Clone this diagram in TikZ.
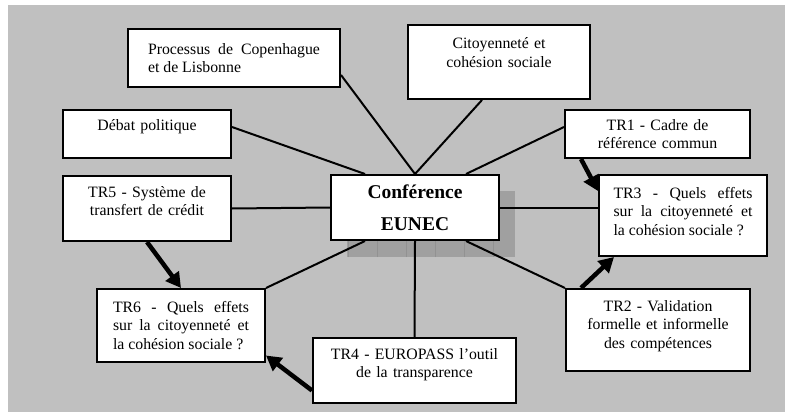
\documentclass[tikz,border=0pt]{standalone}
\usepackage{fontspec}
\setmainfont{Liberation Serif}
\usetikzlibrary{arrows.meta}
\hyphenpenalty=10000

\begin{document}
\begin{tikzpicture}[x=1pt,y=-1pt,line width=2pt,
	box/.style={rectangle,draw,fill=white,inner sep=0pt,
		font=\fontsize{15.8}{18.5}\selectfont},
	lift/.style={execute at end node={\rule[-#1]{0pt}{#1}}},
	bigarrow/.style={-{Triangle[length=15pt,width=16pt]},line width=4.5pt}]
	
	\definecolor{bg}{RGB}{192,192,192}
	\definecolor{shadowgrey}{RGB}{160,160,160}
	\definecolor{shadowgrid}{RGB}{146,146,146}
	
	\useasboundingbox (0,0) rectangle (791,417);
	\fill[bg] (8,5) rectangle (785,412);
	
	% shadow under the centre box
	\fill[shadowgrey] (347,191) rectangle (515,257);
	\draw[shadowgrid,line width=0.5pt,xstep=29,ystep=15] (347,191) grid (515,257);
	
	\node[box, minimum width=168, minimum height=65, text width=150, align=center,
		font=\fontsize{19.5}{32}\selectfont\bfseries] (conf) at (415,207.5) {Conf\'erence\\EUNEC};
	
	\node[box, minimum width=212, minimum height=58, text width=172, align=justify] (proc) at (234,58)
		{Processus de Copenhague\linebreak et de Lisbonne};
	\node[box, minimum width=182, minimum height=74, text width=160, align=center, lift=19pt] (citoy) at (499,62)
		{Citoyennet\'e et\\coh\'esion sociale};
	\node[box, minimum width=168, minimum height=48, text width=150, align=center, lift=17pt] (debat) at (147,134)
		{D\'ebat politique};
	\node[box, minimum width=185, minimum height=48, text width=165, align=center] (tr1) at (657.5,134)
		{TR1 - Cadre de\\r\'ef\'erence commun};
	\node[box, minimum width=168, minimum height=65, text width=150, align=center, lift=15pt] (tr5) at (147,208.5)
		{TR5 - Syst\`eme de\\transfert de cr\'edit};
	\node[box, minimum width=168, minimum height=81, text width=139, align=justify, lift=9pt] (tr3) at (683,215.5)
		{TR3 - Quels effets\linebreak sur la citoyennet\'e et\linebreak la coh\'esion sociale ?};
	\node[box, minimum width=168, minimum height=73, text width=136, align=justify] (tr6) at (181,325.5)
		{TR6 - Quels effets\linebreak sur la citoyennet\'e et\linebreak la coh\'esion sociale ?};
	\node[box, minimum width=184, minimum height=82, text width=170, align=center, lift=11pt] (tr2) at (658,330)
		{TR2 - Validation\\formelle et informelle\\des comp\'etences};
	\node[box, minimum width=203, minimum height=65, text width=185, align=center, lift=15pt] (tr4) at (414.5,370.5)
		{TR4 - EUROPASS l’outil\\de la transparence};
	
	\path[draw]
	([yshift=-17pt]proc.east) edge (conf.north)
	([xshift=-17pt]citoy.south) edge (conf.north)
	([yshift=7pt]debat.east) edge ([xshift=-50pt]conf.north)
	([yshift=7pt]tr1.west) edge ([xshift=51pt]conf.north)
	(tr5.east) edge (conf.west)
	(conf.east) edge (conf.east -| tr3.west)
	(conf.south) edge (tr4.north)
	([xshift=-50pt]conf.south) edge (tr6.north east)
	([xshift=51pt]conf.south) edge (tr2.north west);
	
	\path[bigarrow]
	([xshift=17pt]tr1.south west) edge ([yshift=-17pt]tr3.north west)
	(tr5.south) edge (tr6.north)
	([yshift=-20pt]tr4.west) edge ([yshift=-30pt]tr6.east)
	([xshift=16pt]tr2.north west) edge ([xshift=16pt]tr3.south west);
\end{tikzpicture}
\end{document}
